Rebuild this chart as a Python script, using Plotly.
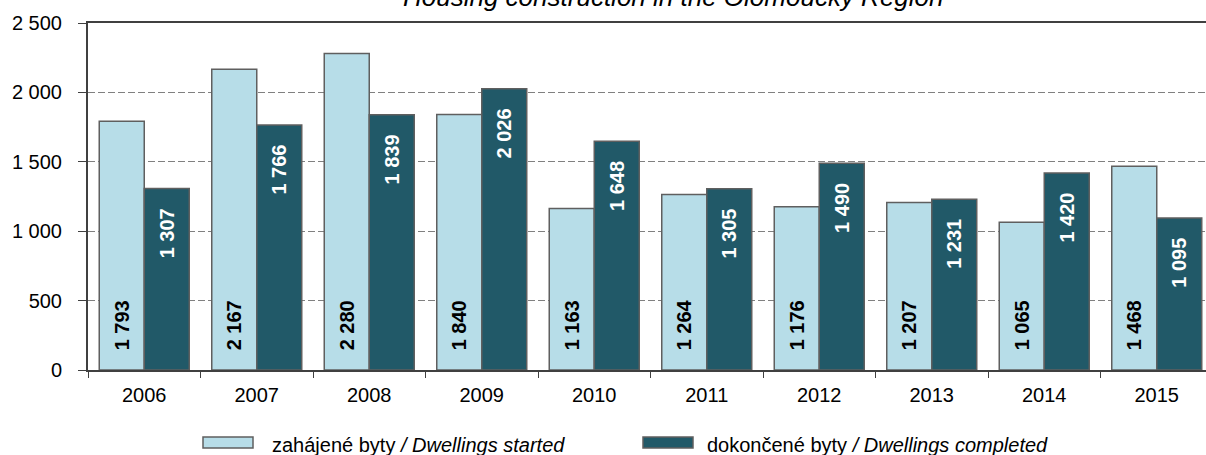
import plotly.graph_objects as go

years = ["2006", "2007", "2008", "2009", "2010", "2011", "2012", "2013", "2014", "2015"]
started = [1793, 2167, 2280, 1840, 1163, 1264, 1176, 1207, 1065, 1468]
completed = [1307, 1766, 1839, 2026, 1648, 1305, 1490, 1231, 1420, 1095]
y_ticks = [0, 500, 1000, 1500, 2000, 2500]

name_started = "zahájené byty <i>/ Dwellings started</i>"
name_completed = "dokončené byty <i>/ Dwellings completed</i>"
title_text = "<i>Housing construction in the Olomoucký Region</i>"

COL_START = "#b7dde8"
COL_DONE = "#215968"
EDGE = "#5f5f5f"
FONT = "Liberation Sans, Arial, sans-serif"

W, H = 1206, 455
ML, MR, MT, MB = 88, 0, 23, 85
PW = W - ML - MR
PH = H - MT - MB
CAT_PX = 112.5  # category width in the original (chart is cropped on the right)

def fmt(v):
    return f"{v:,}".replace(",", " ")

def px_x(x):
    return (x - ML) / PW

def px_y(y):
    return (H - MB - y) / PH

NB = "\u00a0" * 3

fig = go.Figure()
fig.add_trace(go.Bar(
    x=years, y=started, name=name_started,
    marker=dict(color=COL_START, line=dict(color=EDGE, width=1.5)),
    text=[NB + fmt(v) for v in started], textposition="inside", insidetextanchor="start",
    textangle=-90, constraintext="none",
    textfont=dict(family=FONT, size=20, color="#000000", weight="bold"),
    hoverinfo="skip",
))
fig.add_trace(go.Bar(
    x=years, y=completed, name=name_completed,
    marker=dict(color=COL_DONE, line=dict(color=EDGE, width=1.5)),
    text=[fmt(v) + NB for v in completed], textposition="inside", insidetextanchor="end",
    textangle=-90, constraintext="none",
    textfont=dict(family=FONT, size=20, color="#ffffff", weight="bold"),
    hoverinfo="skip",
))

shapes = []
annotations = [dict(text=title_text, xref="paper", yref="paper", x=px_x(673), y=1,
                    xanchor="center", yanchor="bottom", yshift=9, showarrow=False,
                    font=dict(family=FONT, size=26, color="#000000"))]
legend_items = [(name_started, COL_START, 203, 253, 270), (name_completed, COL_DONE, 643, 693, 705)]
for label, col, x0, x1, xt in legend_items:
    shapes.append(dict(type="rect", xref="paper", yref="paper",
                       x0=px_x(x0), x1=px_x(x1), y0=px_y(437), y1=px_y(448),
                       fillcolor=col, line=dict(color=EDGE, width=1.5), layer="above"))
    annotations.append(dict(text=label, xref="paper", yref="paper", x=px_x(xt), y=px_y(445),
                            xanchor="left", yanchor="middle", showarrow=False,
                            font=dict(family=FONT, size=20, color="#000000")))

fig.update_layout(
    width=W, height=H,
    margin=dict(l=ML, r=MR, t=MT, b=MB, autoexpand=False),
    paper_bgcolor="white", plot_bgcolor="white",
    barmode="group", bargap=0.2, bargroupgap=0.0,
    separators=". ",
    font=dict(family=FONT, size=20, color="#000000"),
    showlegend=False,
    shapes=shapes,
    annotations=annotations,
)
fig.update_xaxes(
    type="category", range=[-0.5, -0.5 + PW / CAT_PX],
    showline=True, linecolor="#404040", linewidth=2, mirror=True,
    ticks="outside", tickson="boundaries", ticklen=6, tickcolor="#404040",
    ticklabelstandoff=6, showgrid=False, tickfont=dict(size=20),
)
fig.update_yaxes(
    range=[0, 2500], tickvals=y_ticks, tickformat=",d",
    showline=True, linecolor="#404040", linewidth=2,
    showgrid=True, gridcolor="#808080", gridwidth=1, griddash="7px,3px",
    ticks="outside", ticklen=8, tickcolor="#404040", ticklabelstandoff=12,
    tickfont=dict(size=20), zeroline=False,
)

fig.write_html("out.html", config={"displayModeBar": False},
               post_script="document.body.style.margin='0';document.body.style.overflow='hidden';")
